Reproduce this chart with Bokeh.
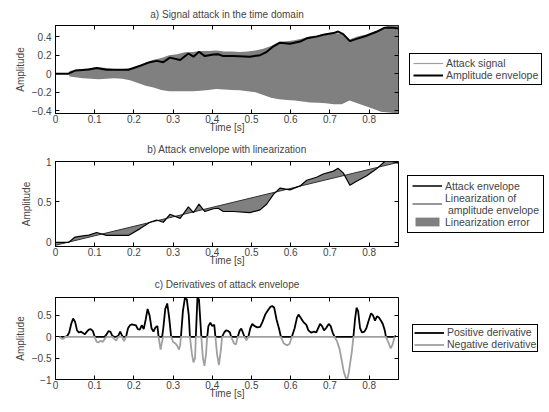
import numpy as np
from bokeh.plotting import figure
from bokeh.layouts import column, row
from bokeh.models import Legend, LegendItem, FixedTicker, LinearAxis, Range1d
from bokeh.embed import file_html
from bokeh.resources import INLINE

FONT = "Liberation Sans"

# ---------------- data ----------------
t_ticks = [0, 0.1, 0.2, 0.3, 0.4, 0.5, 0.6, 0.7, 0.8]
t_tick_labels = ["0", "0.1", "0.2", "0.3", "0.4", "0.5", "0.6", "0.7", "0.8"]
a_y_ticks = [-0.4, -0.2, 0, 0.2, 0.4]
a_y_labels = ["\u22120.4", "\u22120.2", "0", "0.2", "0.4"]
b_y_ticks = [0, 0.5, 1]
b_y_labels = ["0", "0.5", "1"]
c_y_ticks = [-1, -0.5, 0, 0.5]
c_y_labels = ["\u22121", "\u22120.5", "0", "0.5"]

# signal band (attack signal extent)
sig_t = [0.0, 0.033, 0.036, 0.05, 0.07, 0.09, 0.11, 0.13, 0.15, 0.17, 0.19, 0.21, 0.23, 0.25,
         0.27, 0.29, 0.31, 0.33, 0.35, 0.37, 0.39, 0.41, 0.43, 0.45, 0.47, 0.49, 0.51, 0.53,
         0.55, 0.57, 0.59, 0.61, 0.63, 0.65, 0.67, 0.69, 0.71, 0.73, 0.75, 0.77, 0.79, 0.81,
         0.83, 0.85, 0.875]
sig_hi = [0.0, 0.0, 0.03, 0.04, 0.05, 0.06, 0.07, 0.06, 0.05, 0.05, 0.055, 0.08, 0.12, 0.15,
          0.17, 0.2, 0.21, 0.23, 0.235, 0.245, 0.245, 0.25, 0.24, 0.24, 0.235, 0.24, 0.25, 0.27,
          0.3, 0.345, 0.35, 0.36, 0.38, 0.405, 0.415, 0.43, 0.44, 0.43, 0.37, 0.40, 0.42, 0.45,
          0.48, 0.52, 0.52]
sig_lo = [0.0, 0.0, -0.03, -0.04, -0.05, -0.055, -0.06, -0.055, -0.05, -0.055, -0.07, -0.1,
          -0.13, -0.15, -0.175, -0.19, -0.19, -0.19, -0.19, -0.185, -0.175, -0.165, -0.17,
          -0.175, -0.18, -0.19, -0.2, -0.23, -0.26, -0.275, -0.285, -0.29, -0.3, -0.31, -0.315,
          -0.32, -0.33, -0.33, -0.29, -0.32, -0.35, -0.38, -0.41, -0.42, -0.43]

# amplitude envelope
env_t = [0.0, 0.033, 0.05, 0.07, 0.085, 0.105, 0.13, 0.165, 0.186, 0.216, 0.241, 0.258, 0.275,
         0.292, 0.318, 0.339, 0.352, 0.366, 0.381, 0.403, 0.415, 0.428, 0.454, 0.496, 0.522,
         0.539, 0.556, 0.573, 0.598, 0.624, 0.641, 0.666, 0.683, 0.709, 0.721, 0.734, 0.751,
         0.768, 0.794, 0.819, 0.84, 0.858, 0.875]
env_v = [0.0, 0.0, 0.033, 0.04, 0.045, 0.061, 0.043, 0.043, 0.043, 0.085, 0.124, 0.138, 0.124,
         0.173, 0.148, 0.218, 0.183, 0.236, 0.19, 0.207, 0.21, 0.19, 0.19, 0.183, 0.2, 0.236,
         0.295, 0.334, 0.323, 0.347, 0.382, 0.4, 0.42, 0.438, 0.455, 0.427, 0.351, 0.376, 0.41,
         0.452, 0.497, 0.497, 0.487]

# linearization of the (normalized) envelope
lin_t = [0.0, 0.875]
lin_v = [-0.035, 0.99]

# derivative of attack envelope
der_t = [0.010, 0.015, 0.020, 0.025, 0.030, 0.035, 0.040, 0.045, 0.050, 0.055, 0.060, 0.065,
         0.070, 0.075, 0.080, 0.085, 0.090, 0.095, 0.100, 0.105, 0.110, 0.115, 0.120, 0.125,
         0.130, 0.135, 0.140, 0.145, 0.150, 0.155, 0.160, 0.165, 0.170, 0.172, 0.175, 0.180,
         0.185, 0.190, 0.195, 0.200, 0.205, 0.210, 0.215, 0.220, 0.225, 0.230, 0.235, 0.240,
         0.245, 0.250, 0.255, 0.260, 0.263, 0.268, 0.272, 0.275, 0.280, 0.285, 0.290, 0.295,
         0.300, 0.305, 0.310, 0.315, 0.318, 0.320, 0.325, 0.330, 0.335, 0.340, 0.343, 0.348,
         0.352, 0.356, 0.358, 0.362, 0.366, 0.370, 0.372, 0.376, 0.380, 0.384, 0.387, 0.390,
         0.395, 0.400, 0.405, 0.408, 0.412, 0.417, 0.422, 0.425, 0.430, 0.435, 0.440, 0.445,
         0.448, 0.455, 0.460, 0.465, 0.470, 0.474, 0.478, 0.482, 0.487, 0.492, 0.497, 0.502,
         0.508, 0.515, 0.522, 0.528, 0.535, 0.542, 0.548, 0.553, 0.558, 0.564, 0.570, 0.575,
         0.582, 0.590, 0.597, 0.603, 0.610, 0.616, 0.620, 0.625, 0.632, 0.640, 0.645, 0.652,
         0.660, 0.665, 0.670, 0.675, 0.680, 0.685, 0.690, 0.697, 0.702, 0.707, 0.712, 0.718,
         0.725, 0.730, 0.735, 0.740, 0.744, 0.748, 0.752, 0.756, 0.760, 0.764, 0.768, 0.772,
         0.777, 0.782, 0.788, 0.793, 0.798, 0.805, 0.810, 0.815, 0.820, 0.825, 0.830, 0.835,
         0.840, 0.843, 0.850, 0.855, 0.860, 0.865, 0.868]
der_v = [0.0, -0.04, -0.05, 0.0, 0.02, 0.1, 0.3, 0.43, 0.35, 0.15, 0.1, 0.12,
         0.09, 0.06, 0.12, 0.17, 0.18, 0.14, 0.0, -0.12, -0.13, -0.09, -0.12, -0.06,
         0.05, 0.13, 0.12, 0.02, -0.05, -0.09, 0.02, 0.12, 0.02, -0.05, -0.1, 0.0,
         0.2, 0.27, 0.29, 0.28, 0.27, 0.18, 0.17, 0.27, 0.18, 0.4, 0.65, 0.5,
         0.2, 0.12, 0.22, 0.25, 0.0, -0.3, -0.1, 0.2, 0.65, 0.78, 0.45, 0.0,
         -0.12, -0.15, -0.2, -0.3, -0.2, 0.0, 0.6, 0.9, 0.88, 0.5, 0.0, -0.4,
         -0.6, -0.5, 0.0, 0.9, 0.88, 0.3, 0.0, -0.5, -0.68, -0.4, 0.0, 0.25,
         0.33, 0.25, 0.28, 0.0, -0.4, -0.66, -0.3, 0.0, 0.1, 0.15, 0.14, 0.1,
         0.0, -0.15, -0.18, 0.0, 0.15, 0.19, 0.1, 0.0, -0.08, 0.0, 0.2, 0.3,
         0.25, 0.22, 0.23, 0.35, 0.52, 0.62, 0.7, 0.72, 0.68, 0.4, 0.2, 0.0,
         -0.15, -0.2, -0.17, 0.0, 0.2, 0.45, 0.52, 0.45, 0.35, 0.28, 0.15, 0.1,
         0.12, 0.1, 0.2, 0.3, 0.25, 0.15, 0.2, 0.3, 0.25, 0.1, 0.0, -0.1,
         -0.3, -0.55, -0.8, -0.95, -1.0, -0.85, -0.6, -0.35, 0.0, 0.4, 0.68, 0.6,
         0.2, 0.1, 0.12, 0.2, 0.35, 0.55, 0.5, 0.38, 0.48, 0.45, 0.38, 0.3,
         0.15, 0.0, -0.15, -0.27, -0.18, 0.0, 0.03]

env_norm = np.array(env_v) / max(env_v)
der_pos = np.maximum(np.array(der_v), 0)
der_neg = np.minimum(np.array(der_v), 0)
err_x = list(env_t) + lin_t[::-1]
err_y = list(env_norm) + lin_v[::-1]

LEFT = 55
FRAME_W = 343
RIGHT = 5
PW = LEFT + FRAME_W + RIGHT   # plot figure width
LW = 549 - PW                  # legend figure width


# ---------------- helpers ----------------
def make_fig(title, yr, yticks, ylabels, h, top, bottom, title_standoff):
    p = figure(width=PW, height=h, x_range=Range1d(0, 0.875),
               y_range=Range1d(*yr), output_backend="svg", toolbar_location=None,
               min_border_left=LEFT, min_border_right=RIGHT,
               min_border_top=top, min_border_bottom=bottom, title=title,
               background_fill_color="white", border_fill_color="white")
    p.title.align = "center"
    p.title.text_font = FONT
    p.title.text_font_size = "10px"
    p.title.text_font_style = "normal"
    p.title.standoff = title_standoff
    p.xgrid.visible = False
    p.ygrid.visible = False
    p.outline_line_color = "black"
    p.outline_line_alpha = 1
    for ax, ticks, labels, lab in ((p.xaxis[0], t_ticks, t_tick_labels, "Time [s]"),
                                   (p.yaxis[0], yticks, ylabels, "Amplitude")):
        ax.ticker = FixedTicker(ticks=ticks)
        ax.major_label_overrides = {t: l for t, l in zip(ticks, labels)}
        ax.major_tick_in = 4
        ax.major_tick_out = 0
        ax.minor_tick_line_color = None
        ax.axis_label = lab
        ax.axis_label_text_font = FONT
        ax.axis_label_text_font_size = "10px"
        ax.axis_label_text_font_style = "normal"
        ax.major_label_text_font = FONT
        ax.major_label_text_font_size = "10px"
        ax.axis_line_color = "black"
        ax.major_tick_line_color = "black"
    p.xaxis[0].major_label_standoff = 1
    p.xaxis[0].axis_label_standoff = -4
    p.yaxis[0].major_label_standoff = 4
    p.yaxis[0].axis_label_standoff = 3
    # mirrored tick marks on top and right (no labels)
    top_ax = LinearAxis(ticker=FixedTicker(ticks=t_ticks), major_tick_in=4, major_tick_out=0,
                        minor_tick_line_color=None,
                        major_label_overrides={t: "" for t in t_ticks},
                        major_label_standoff=0, axis_line_color=None)
    p.add_layout(top_ax, "above")
    right_ax = LinearAxis(ticker=FixedTicker(ticks=yticks), major_tick_in=4, major_tick_out=0,
                          minor_tick_line_color=None,
                          major_label_overrides={t: "" for t in yticks},
                          major_label_standoff=0, axis_line_color=None)
    p.add_layout(right_ax, "right")
    return p


def legend_fig(h):
    lf = figure(width=LW, height=h, x_range=Range1d(0, 1), y_range=Range1d(0, 1),
                output_backend="svg", toolbar_location=None, x_axis_type=None,
                y_axis_type=None, min_border=0, outline_line_color=None,
                background_fill_color="white", border_fill_color="white")
    lf.xgrid.visible = False
    lf.ygrid.visible = False
    return lf


def add_legend(lf, items, label_h, pad, margin):
    lg = Legend(items=[LegendItem(label=l, renderers=r) for l, r in items],
                location="center_left", border_line_color="black", border_line_width=1,
                border_line_alpha=1, label_text_font=FONT, label_text_font_size="10.5px",
                label_standoff=3, glyph_width=30, glyph_height=label_h, label_height=label_h,
                padding=pad, spacing=0, margin=margin, background_fill_color="white",
                background_fill_alpha=1, click_policy="none")
    lf.add_layout(lg, "center")


# ---------------- panel a ----------------
HA = 135
pa = make_fig("a) Signal attack in the time domain", (-0.43, 0.52), a_y_ticks, a_y_labels,
              HA, 24, 21, 12)
pa.varea(x=sig_t, y1=sig_lo, y2=sig_hi, fill_color="#808080")
pa.line(x=env_t, y=env_v, line_color="black", line_width=2)
la = legend_fig(HA)
la_sig = la.line(x=sig_t, y=sig_hi, line_color="#a0a0a0", line_width=1.2, visible=False)
la_env = la.line(x=env_t, y=env_v, line_color="black", line_width=2, visible=False)
add_legend(la, [("Attack signal", [la_sig]), ("Amplitude envelope", [la_env])], 12, 3,
           409 - PW)

# ---------------- panel b ----------------
HB = 133
pb = make_fig("b) Attack envelope with linearization", (-0.05, 1.0), b_y_ticks, b_y_labels,
              HB, 23, 21, 13)
pb.patch(x=err_x, y=err_y, fill_color="#808080", line_color=None)
pb.line(x=lin_t, y=lin_v, line_color="#303030", line_width=1)
pb.line(x=env_t, y=env_norm, line_color="black", line_width=1.2)
lb = legend_fig(HB)
lb_env = lb.line(x=env_t, y=env_norm, line_color="black", line_width=1.5, visible=False)
lb_lin = lb.line(x=lin_t, y=lin_v, line_color="#303030", line_width=1, visible=False)
lb_err = lb.patch(x=err_x, y=err_y, fill_color="#808080", line_color=None, visible=False)
add_legend(lb, [("Attack envelope", [lb_env]),
                ("Linearization of\n amplitude envelope", [lb_lin]),
                ("Linearization error", [lb_err])], 11, 4, 407 - PW)

# ---------------- panel c ----------------
HC = 133
pc = make_fig("c) Derivatives of attack envelope", (-1.0, 0.92), c_y_ticks, c_y_labels,
              HC, 24, 22, 16)
pc.line(x=der_t, y=der_pos, line_color="black", line_width=1.8)
pc.line(x=der_t, y=der_neg, line_color="#a0a0a0", line_width=1.8)
lc = legend_fig(HC)
lc_pos = lc.line(x=der_t, y=der_pos, line_color="black", line_width=1.8, visible=False)
lc_neg = lc.line(x=der_t, y=der_neg, line_color="#a0a0a0", line_width=1.8, visible=False)
add_legend(lc, [("Positive derivative", [lc_pos]), ("Negative derivative", [lc_neg])], 9, 1,
           412 - PW)

layout = column(row(pa, la, spacing=0), row(pb, lb, spacing=0), row(pc, lc, spacing=0),
                spacing=0)
open("out.html", "w").write(file_html(layout, INLINE))
